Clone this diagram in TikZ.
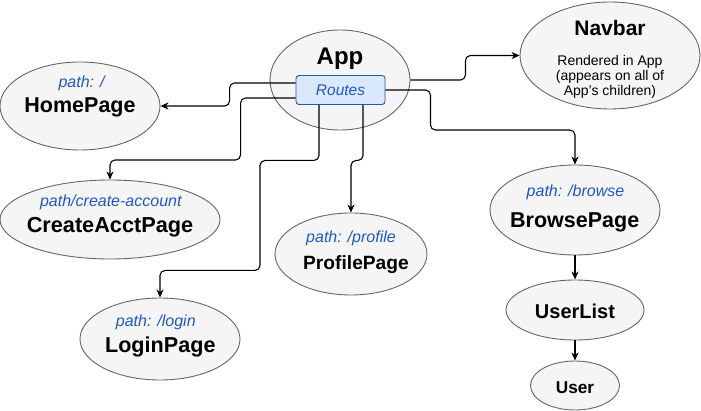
\documentclass[tikz,border=0pt]{standalone}
\usepackage{fontspec}
\setmainfont{Liberation Sans}
\usetikzlibrary{shapes.geometric,arrows.meta}
\definecolor{ellfill}{HTML}{F5F5F5}
\definecolor{ellline}{HTML}{666666}
\definecolor{pathblue}{HTML}{2257C2}
\definecolor{routefill}{HTML}{DAE8FC}
\definecolor{routeline}{HTML}{2C57A8}
\tikzset{
  ell/.style={ellipse, draw=ellline, fill=ellfill, line width=0.9pt, inner sep=0pt},
  nm/.style={anchor=base, inner sep=0pt, font=\fontsize{#1}{#1}\selectfont\bfseries},
  pl/.style={anchor=base, inner sep=0pt, text=pathblue, font=\fontsize{16}{16}\selectfont\itshape},
  sub/.style={anchor=base, inner sep=0pt, font=\fontsize{14}{14}\selectfont},
  conn/.style={draw=black, line width=1.1pt, rounded corners=5pt, -{Stealth[length=8pt,width=7pt,inset=2.5pt]}},
}
\begin{document}
\begin{tikzpicture}[x=1pt,y=-1pt]
\useasboundingbox (0,0) rectangle (701,411);
% ellipses
\node[ell, minimum width=140pt, minimum height=100pt] (app) at (340,80) {};
\node[ell, minimum width=180pt, minimum height=107pt] (navbar) at (610,55.5) {};
\node[ell, minimum width=160pt, minimum height=88pt] (home) at (80,106) {};
\node[ell, minimum width=220pt, minimum height=79pt] (create) at (110,219.5) {};
\node[ell, minimum width=152pt, minimum height=82pt] (profile) at (351,254) {};
\node[ell, minimum width=160pt, minimum height=82pt] (login) at (160,339) {};
\node[ell, minimum width=170pt, minimum height=90pt] (browse) at (575,210) {};
\node[ell, minimum width=138pt, minimum height=60pt] (userlist) at (575,310) {};
\node[ell, minimum width=89pt, minimum height=49pt] (user) at (575,385.5) {};
% routes box
\node[draw=routeline, fill=routefill, line width=0.9pt, rounded corners=3pt,
      minimum width=89pt, minimum height=29pt, inner sep=0pt,
      text=pathblue, font=\fontsize{15.5}{15.5}\selectfont\itshape] (routes) at (340.5,90) {Routes};
% texts
\node[nm=24] (tapp) at (340,65) {App};
\node[nm=21] (tnav) at (610,35.7) {Navbar};
\node[sub] (tnav1) at (610,66) {Rendered in App};
\node[sub] (tnav2) at (610,81) {(appears on all of};
\node[sub] (tnav3) at (610,95.5) {App's children)};
\node[pl] (phome) at (81.5,87.5) {path: /};
\node[nm=21.5] (thome) at (80,112.7) {HomePage};
\node[pl] (pcreate) at (110.8,206.5) {path/create-account};
\node[nm=21.7] (tcreate) at (110,232.7) {CreateAcctPage};
\node[pl] (pprofile) at (351,242.7) {path: /profile};
\node[nm=19.2] (tprofile) at (356,270) {ProfilePage};
\node[pl] (plogin) at (155.8,326.7) {path: /login};
\node[nm=21.6] (tlogin) at (160.3,352.3) {LoginPage};
\node[pl] (pbrowse) at (575.5,196.7) {path: /browse};
\node[nm=21.5] (tbrowse) at (574.7,227.3) {BrowsePage};
\node[nm=20] (tuserlist) at (575,318.3) {UserList};
\node[nm=17.2] (tuser) at (575,393.3) {User};
% connectors
\draw[conn] (app.east) -- ++(55,0) |- (navbar.west);
\draw[conn] ([yshift=7pt]routes.west) -- ++(-66,0) |- (home.east);
\draw[conn] ([yshift=-8pt]routes.west) -- ++(-55,0) -- ++(0,62) -| (create.north);
\draw[conn] ([xshift=-21.5pt]routes.south) -- ++(0,55.5) -- ++(-59,0) -- ++(0,110) -| (login.north);
\draw[conn] ([xshift=22.5pt]routes.south) -- ++(0,55.5) -| (profile.north);
\draw[conn] (routes.east) -- ++(45,0) -- ++(0,40) -| (browse.north);
\draw[conn] (browse.south) -- (userlist.north);
\draw[conn] (userlist.south) -- (user.north);
\end{tikzpicture}
\end{document}
